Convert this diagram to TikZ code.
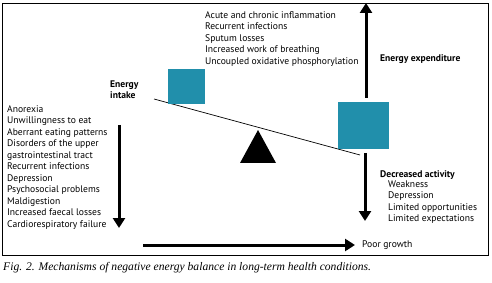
\documentclass[tikz,border=0pt]{standalone}
\usepackage{fontspec}
\setmainfont{PT Sans}
\newfontfamily\capfont{Liberation Serif}
\usetikzlibrary{arrows.meta,positioning}
\definecolor{weightteal}{RGB}{33,143,171}

\begin{document}
\begin{tikzpicture}[
  x=1pt, y=-1pt,
  font=\fontsize{9.6}{11.45}\selectfont,
  weight/.style={fill=weightteal, draw=none, inner sep=0pt},
  bigarrow/.style={line width=3pt, -{Triangle[length=10pt,width=12pt]}},
  txt/.style={inner sep=0pt, align=left},
  hdr/.style={txt, font=\fontsize{9.6}{11.45}\selectfont\bfseries}
]
\useasboundingbox (0,0) rectangle (492,283);

% frame
\draw[line width=0.9pt] (2,3) rectangle (488,255);

% Balance: beam, fulcrum and two weights
\coordinate (beamL) at (154,99);
\coordinate (beamR) at (360,155);
\draw[line width=0.7pt] (beamL) -- (beamR);
\fill (258,130) -- (240,163) -- (276,163) -- cycle;
\node[weight, minimum width=37pt, minimum height=35pt] (small) at (186.5,86.5) {};
\node[weight, minimum width=51pt, minimum height=47pt] (big) at (363.5,125.5) {};

% Left: energy intake
\node[hdr, anchor=north west] (intake) at (110,80.5) {Energy\\intake};
\node[txt, anchor=north west] (intakelist) at (7,105.5) {%
  Anorexia\\Unwillingness to eat\\Aberrant eating patterns\\Disorders of the upper\\
  gastrointestinal tract\\Recurrent infections\\Depression\\Psychosocial problems\\
  Maldigestion\\Increased faecal losses\\Cardiorespiratory failure};
\coordinate (inTop) at (119,125);
\coordinate (inBot) at (119,228);
\draw[bigarrow] (inTop) -- (inBot);

% Top right: energy expenditure
\node[txt, anchor=north west] (expendlist) at (205,11.5) {%
  Acute and chronic inflammation\\Recurrent infections\\Sputum losses\\
  Increased work of breathing\\Uncoupled oxidative phosphorylation};
\node[hdr, anchor=west] (expend) at (380,59) {Energy expenditure};
\coordinate (upBot) at (366,98);
\coordinate (upTop) at (366,3);
\draw[bigarrow] (upBot) -- (upTop);

% Bottom right: decreased activity
\coordinate (dnTop) at (365,153);
\coordinate (dnBot) at (365,221);
\draw[bigarrow] (dnTop) -- (dnBot);
\node[hdr, anchor=north west] (activity) at (380,170) {Decreased activity};
\node[txt, anchor=north west] (activitylist) at (388,180.5) {%
  Weakness\\Depression\\Limited opportunities\\Limited expectations};

% Bottom: poor growth
\node[txt, anchor=west] (growth) at (362,245) {Poor growth};
\coordinate (grL) at (143,245);
\draw[bigarrow, shorten >=7pt] (grL) -- (growth.west);

% caption
\node[inner sep=0pt, anchor=west, font=\capfont\itshape\fontsize{11.6}{13}\selectfont] (caption) at (3,268)
  {Fig. 2. Mechanisms of negative energy balance in long-term health conditions.};
\end{tikzpicture}
\end{document}
